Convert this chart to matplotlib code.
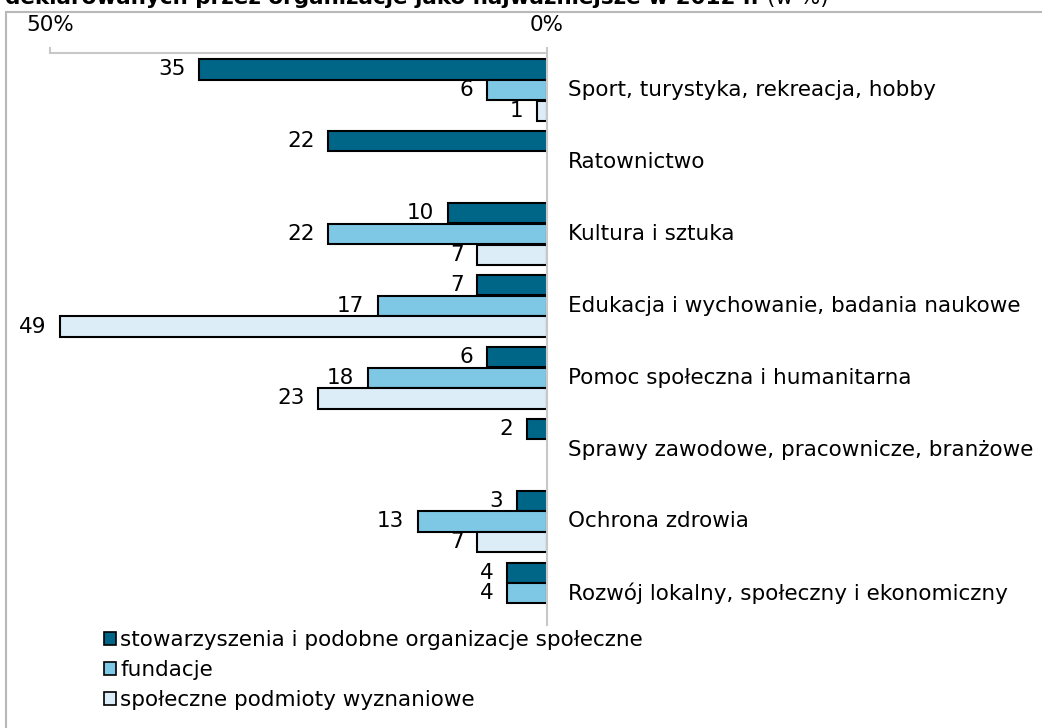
import matplotlib.pyplot as plt
from matplotlib.patches import Patch, Rectangle

categories = ['Sport, turystyka, rekreacja, hobby', 'Ratownictwo', 'Kultura i sztuka',
              'Edukacja i wychowanie, badania naukowe', 'Pomoc społeczna i humanitarna',
              'Sprawy zawodowe, pracownicze, branżowe', 'Ochrona zdrowia',
              'Rozwój lokalny, społeczny i ekonomiczny']
stowarzyszenia = [35, 22, 10, 7, 6, 2, 3, 4]
fundacje = [6, None, 22, 17, 18, None, 13, 4]
wyznaniowe = [1, None, 7, 49, 23, None, 7, None]
series = [('stowarzyszenia i podobne organizacje społeczne', stowarzyszenia, '#006688'),
          ('fundacje', fundacje, '#7ec8e6'),
          ('społeczne podmioty wyznaniowe', wyznaniowe, '#dcedf8')]

W, H = 1042, 728
fig = plt.figure(figsize=(W / 100, H / 100), dpi=100)
fs = 15.5

# outer frame
fig.patches.append(Rectangle((6 / W, -0.1), 1.2, 1 - 12 / H + 0.1, transform=fig.transFigure,
                             fill=False, edgecolor='#b8b8b8', linewidth=1.5))

t = fig.text(5 / W, 1 - 4 / H, 'deklarowanych przez organizacje jako najważniejsze w 2012 r.',
             fontsize=fs, fontweight='bold', va='baseline', ha='left')
fig.canvas.draw()
bb = t.get_window_extent()
fig.text((bb.x1 + 8) / W, 1 - 4 / H, '(w %)', fontsize=fs, va='baseline', ha='left')

ax = fig.add_axes([50 / W, 1 - 625 / H, 497 / W, 572 / H])
ax.set_xlim(-50, 0)
ax.set_ylim(7.44, -0.514)

off = [-0.285, 0, 0.29]
bh = 0.28
for k, (name, vals, col) in enumerate(series):
    for i, v in enumerate(vals):
        if v is None:
            continue
        ax.barh(i + off[k], -v, height=bh, color=col, edgecolor='black', linewidth=1.5)
        ax.annotate(str(v), (-v, i + off[k]), xytext=(-10, 0), textcoords='offset points',
                    ha='right', va='center', fontsize=fs, annotation_clip=False)

for i, c in enumerate(categories):
    ax.annotate(c, (0, i), xytext=(15, 0), textcoords='offset points', ha='left',
                va='center', fontsize=fs, annotation_clip=False)

ax.xaxis.tick_top()
ax.set_xticks([-50, 0])
ax.set_xticklabels(['50%', '0%'], fontsize=fs)
ax.tick_params(axis='x', length=4, color='#c8c8c8', width=1.5, pad=9)
ax.set_yticks([])
for s in ['bottom', 'left']:
    ax.spines[s].set_visible(False)
ax.spines['top'].set_color('#c8c8c8')
ax.spines['top'].set_linewidth(1.5)
ax.spines['right'].set_color('#c8c8c8')
ax.spines['right'].set_linewidth(1.5)
ax.patch.set_alpha(0)

handles = [Patch(facecolor=c, edgecolor='black', linewidth=1.2, label=n) for n, _, c in series]
fig.legend(handles=handles, loc='upper left', bbox_to_anchor=(104 / W, 1 - 630 / H),
           frameon=False, fontsize=fs, handlelength=0.55, handleheight=0.55,
           handletextpad=0.2, labelspacing=0.46, borderaxespad=0, borderpad=0)

fig.savefig('out.png', dpi=100)
